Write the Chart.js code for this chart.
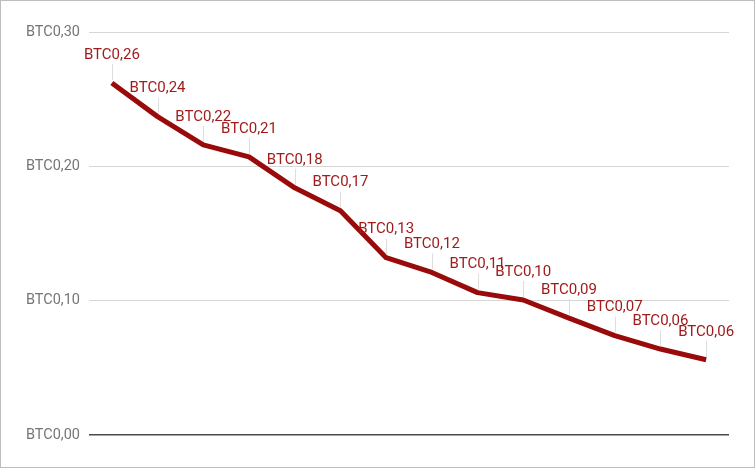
<!DOCTYPE html>
<html>
<head>
<meta charset="utf-8">
<script src="https://cdn.jsdelivr.net/npm/chart.js@4"></script>
<style>
  body { margin: 0; background: #fff; }
  #rahmen { position: relative; width: 755px; height: 468px; box-sizing: border-box; border: 1px solid #bdbdbd; }
  #kurs { position: absolute; left: -1px; top: -1px; }
</style>
</head>
<body>
<div id="rahmen"><canvas id="kurs" width="755" height="468"></canvas></div>
<script>
// Werte
const kategorien = ["1", "2", "3", "4", "5", "6", "7", "8", "9", "10", "11", "12", "13", "14"];
const werte = [0.262, 0.237, 0.216, 0.207, 0.184, 0.167, 0.132, 0.121, 0.106, 0.1005, 0.087, 0.074, 0.064, 0.056];
const yTicks = [0, 0.1, 0.2, 0.3];

function btc(v) {
    return "BTC" + v.toFixed(2).replace(".", ",");
}

const beschriftung = {
    id: "beschriftung",
    afterDatasetsDraw(chart) {
        const ctx = chart.ctx;
        const meta = chart.getDatasetMeta(0);
        ctx.save();
        meta.data.forEach((p, i) => {
            ctx.strokeStyle = "#dedede";
            ctx.lineWidth = 1;
            ctx.beginPath();
            ctx.moveTo(Math.round(p.x) + 0.5, p.y - 19);
            ctx.lineTo(Math.round(p.x) + 0.5, p.y - 3);
            ctx.stroke();
        });
        ctx.font = "15px Roboto";
        ctx.fillStyle = "#a01c1c";
        ctx.textAlign = "center";
        ctx.textBaseline = "middle";
        meta.data.forEach((p, i) => {
            ctx.fillText(btc(werte[i]), p.x, p.y - 28);
        });
        ctx.restore();
    }
};

new Chart(document.getElementById("kurs"), {
    type: "line",
    data: {
        labels: kategorien,
        datasets: [{
            data: werte,
            borderColor: "#990a0a",
            borderWidth: 5,
            pointRadius: 0,
            tension: 0,
            borderJoinStyle: "round",
            fill: false
        }]
    },
    options: {
        responsive: false,
        animation: false,
        layout: { padding: { top: 32, right: 26, bottom: 33, left: 0 } },
        plugins: { legend: { display: false }, tooltip: { enabled: false } },
        scales: {
            x: {
                display: false,
                offset: true
            },
            y: {
                min: 0,
                max: 0.3,
                afterFit(scale) { scale.width = 89; },
                afterBuildTicks(scale) { scale.ticks = yTicks.map(v => ({ value: v })); },
                border: { display: false },
                grid: {
                    drawTicks: false,
                    color: c => c.tick.value === 0 ? "#4a4a4a" : "#d6d6d6",
                    lineWidth: c => c.tick.value === 0 ? 1.5 : 1
                },
                ticks: {
                    padding: 9,
                    color: "#757575",
                    font: { family: "Roboto", size: 14.5 },
                    callback: v => btc(v)
                }
            }
        }
    },
    plugins: [beschriftung]
});
</script>
</body>
</html>
